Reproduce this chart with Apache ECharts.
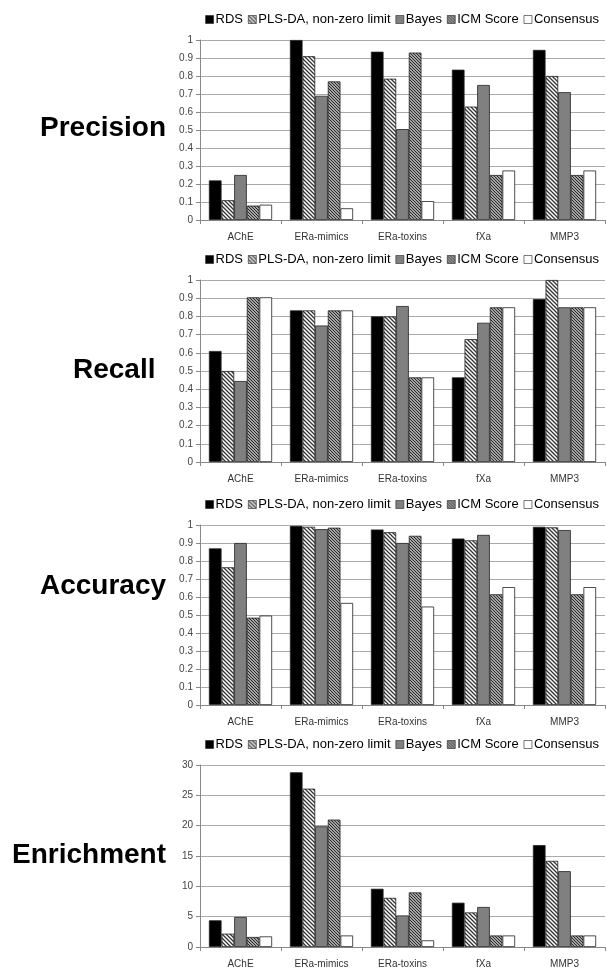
<!DOCTYPE html>
<html>
<head>
<meta charset="utf-8">
<script src="https://cdn.jsdelivr.net/npm/echarts@6/dist/echarts.min.js"></script>
<style>html,body{margin:0;padding:0;background:#fff}#c{width:607px;height:969px}</style>
</head>
<body>
<div id="c"></div>
<script>
var categories = ['AChE', 'ERa-mimics', 'ERa-toxins', 'fXa', 'MMP3'];
var seriesNames = ['RDS', 'PLS-DA, non-zero limit', 'Bayes', 'ICM Score', 'Consensus'];
var panelTitles = ['Precision', 'Recall', 'Accuracy', 'Enrichment'];

var precisionRDS = [0.22, 1.0, 0.935, 0.835, 0.945];
var precisionPLS = [0.11, 0.91, 0.785, 0.63, 0.80];
var precisionBayes = [0.25, 0.69, 0.505, 0.75, 0.71];
var precisionICM = [0.08, 0.77, 0.93, 0.25, 0.25];
var precisionCons = [0.085, 0.065, 0.105, 0.275, 0.275];

var recallRDS = [0.61, 0.833, 0.80, 0.465, 0.895];
var recallPLS = [0.50, 0.833, 0.80, 0.675, 1.0];
var recallBayes = [0.445, 0.75, 0.857, 0.765, 0.85];
var recallICM = [0.905, 0.833, 0.465, 0.85, 0.85];
var recallCons = [0.905, 0.833, 0.465, 0.85, 0.85];

var accuracyRDS = [0.87, 0.995, 0.975, 0.925, 0.99];
var accuracyPLS = [0.765, 0.99, 0.96, 0.915, 0.987];
var accuracyBayes = [0.90, 0.977, 0.90, 0.945, 0.972];
var accuracyICM = [0.485, 0.985, 0.94, 0.615, 0.615];
var accuracyCons = [0.497, 0.567, 0.547, 0.655, 0.655];

var enrichRDS = [4.4, 28.8, 9.6, 7.3, 16.8];
var enrichPLS = [2.2, 26.1, 8.1, 5.7, 14.2];
var enrichBayes = [4.95, 19.9, 5.2, 6.6, 12.5];
var enrichICM = [1.65, 21.0, 9.0, 1.9, 1.9];
var enrichCons = [1.75, 1.9, 1.1, 1.9, 1.9];

var panelData = [
  [precisionRDS, precisionPLS, precisionBayes, precisionICM, precisionCons],
  [recallRDS, recallPLS, recallBayes, recallICM, recallCons],
  [accuracyRDS, accuracyPLS, accuracyBayes, accuracyICM, accuracyCons],
  [enrichRDS, enrichPLS, enrichBayes, enrichICM, enrichCons]
];
var yMax = [1, 1, 1, 30];
var yInterval = [0.1, 0.1, 0.1, 5];

function hatch(size, lineColor, lw, bg) {
  var c = document.createElement('canvas');
  c.width = size; c.height = size;
  var g = c.getContext('2d');
  g.fillStyle = bg; g.fillRect(0, 0, size, size);
  g.strokeStyle = lineColor; g.lineWidth = lw;
  g.beginPath();
  g.moveTo(-1, -1); g.lineTo(size + 1, size + 1);
  g.moveTo(-1, size - 1); g.lineTo(1, size + 1);
  g.moveTo(size - 1, -1); g.lineTo(size + 1, 1);
  g.stroke();
  return {image: c, repeat: 'repeat'};
}
var colors = [
  '#000000',
  hatch(4, '#333333', 1.3, '#ffffff'),
  '#808080',
  hatch(3, '#222222', 1.1, '#d8d8d8'),
  '#ffffff'
];

var gridTops = [40, 280, 525, 765];
var gridHeights = [180, 182, 180, 182];
var legendTops = [8, 248, 493, 733];
var titleY = [130, 372, 588, 857];
var titleX = [40, 73, 40, 12];

var grids = [], xAxes = [], yAxes = [], series = [], legends = [], graphics = [];
for (var p = 0; p < 4; p++) {
  grids.push({left: 200, right: 2, top: gridTops[p], height: gridHeights[p]});
  xAxes.push({
    type: 'category', gridIndex: p, data: categories,
    axisLine: {lineStyle: {color: '#888', width: 1}},
    axisTick: {show: true, length: 4, lineStyle: {color: '#888'}},
    axisLabel: {fontSize: 10, color: '#333', fontFamily: 'Liberation Sans, Arial', margin: 12}
  });
  yAxes.push({
    type: 'value', gridIndex: p, min: 0, max: yMax[p], interval: yInterval[p],
    axisLine: {show: true, lineStyle: {color: '#888', width: 1}},
    axisTick: {show: true, length: 4, lineStyle: {color: '#888'}},
    axisLabel: {fontSize: 10, color: '#444', fontFamily: 'Liberation Sans, Arial', margin: 7},
    splitLine: {lineStyle: {color: '#aaa', width: 1}}
  });
  for (var s = 0; s < 5; s++) {
    series.push({
      type: 'bar', name: seriesNames[s], xAxisIndex: p, yAxisIndex: p,
      data: panelData[p][s],
      barCategoryGap: '22%', barGap: '0%',
      itemStyle: {color: colors[s], borderColor: '#222', borderWidth: 0.8},
      emphasis: {disabled: true},
      animation: false
    });
  }
  legends.push({
    data: seriesNames, right: 3, top: legendTops[p],
    icon: 'rect', itemWidth: 8, itemHeight: 8, itemGap: 5,
    textStyle: {fontSize: 13, color: '#000', fontFamily: 'Liberation Sans, Arial', padding: [0, 0, 0, -3]},
    selectedMode: false,
    itemStyle: {borderColor: '#222', borderWidth: 0.6}
  });
  graphics.push({
    type: 'text', left: titleX[p], top: titleY[p] - 16,
    style: {text: panelTitles[p], font: 'bold 28px "Liberation Sans", Arial', fill: '#000'}
  });
}

var chart = echarts.init(document.getElementById('c'), null, {renderer: 'canvas'});
chart.setOption({
  animation: false,
  grid: grids, xAxis: xAxes, yAxis: yAxes, series: series,
  legend: legends, graphic: graphics
});
</script>
</body>
</html>
